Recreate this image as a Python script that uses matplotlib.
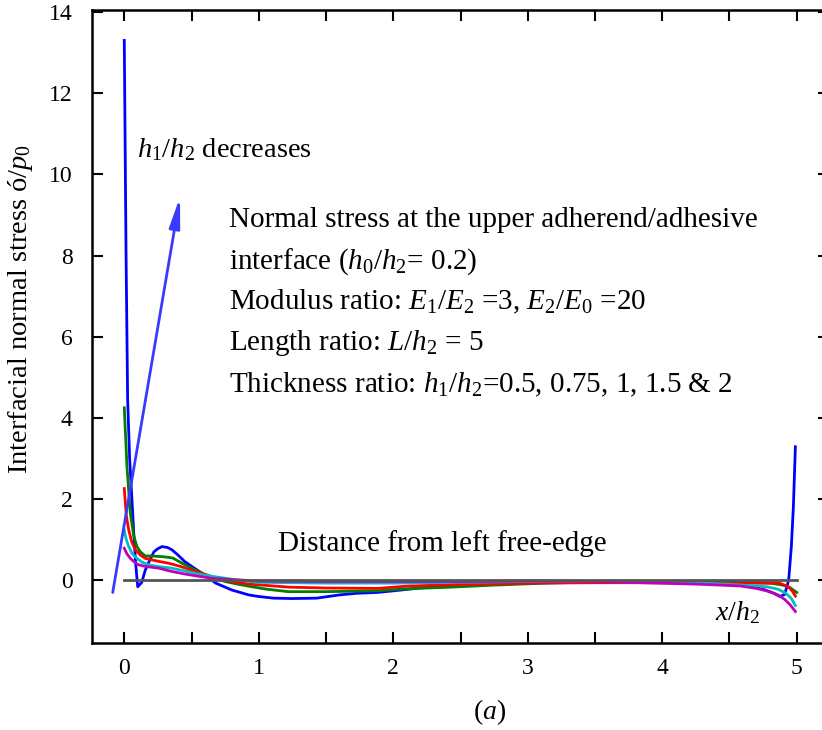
import numpy as np
import matplotlib
matplotlib.use("Agg")
import matplotlib.pyplot as plt

# Normal stress along the upper adherend/adhesive interface
# one curve per thickness ratio h1/h2

plt.rcParams["font.family"] = ["Liberation Serif", "DejaVu Serif"]
plt.rcParams["mathtext.fontset"] = "custom"
plt.rcParams["mathtext.rm"] = "Liberation Serif"
plt.rcParams["mathtext.it"] = "Liberation Serif:italic"
plt.rcParams["mathtext.bf"] = "Liberation Serif:bold"

# Data
blue_x = [0.0, 0.013, 0.025, 0.04, 0.055, 0.07, 0.085, 0.1, 0.13, 0.156, 0.19, 0.22,
          0.25, 0.28, 0.32, 0.355, 0.4, 0.45, 0.52, 0.58, 0.68, 0.8, 0.925, 1.0, 1.11,
          1.25, 1.43, 1.6, 1.73, 1.88, 2.0, 2.17, 2.47, 2.8, 3.2, 3.6, 4.0, 4.3, 4.5,
          4.67, 4.75, 4.83, 4.875, 4.91, 4.94, 4.96, 4.975, 4.99]
blue_y = [13.3, 8.1, 4.45, 3.0, 2.1, 1.2, 0.4, -0.16, -0.05, 0.25, 0.5, 0.7,
          0.78, 0.83, 0.81, 0.75, 0.62, 0.46, 0.3, 0.17, -0.07, -0.24, -0.36, -0.4, -0.44,
          -0.45, -0.44, -0.36, -0.32, -0.3, -0.26, -0.2, -0.1, -0.06, -0.04, -0.03, -0.03, -0.05, -0.08,
          -0.16, -0.22, -0.32, -0.4, -0.35, 0.0, 0.83, 1.8, 3.29]

green_x = [0.0, 0.02, 0.045, 0.07, 0.094, 0.12, 0.156, 0.2, 0.29, 0.36, 0.43, 0.5,
           0.58, 0.66, 0.75, 0.85, 0.95, 1.06, 1.22, 1.5, 1.88, 2.05, 2.17, 2.42,
           2.74, 3.14, 3.5, 4.0, 4.5, 4.8, 4.9, 4.95, 5.0]
green_y = [4.25, 2.8, 1.65, 1.1, 0.83, 0.7, 0.6, 0.6, 0.58, 0.55, 0.42, 0.3,
           0.17, 0.06, -0.03, -0.1, -0.16, -0.22, -0.28, -0.28, -0.26, -0.22, -0.2, -0.17,
           -0.12, -0.07, -0.04, -0.03, -0.04, -0.07, -0.12, -0.18, -0.3]

red_x = [0.0, 0.015, 0.033, 0.055, 0.082, 0.12, 0.156, 0.25, 0.33, 0.42, 0.5,
         0.58, 0.65, 0.75, 0.85, 0.95, 1.03, 1.23, 1.5, 1.88, 2.12, 2.55, 3.04,
         3.5, 3.78, 4.1, 4.43, 4.7, 4.87, 4.94, 4.97, 4.99]
red_y = [2.26, 1.6, 1.24, 0.95, 0.75, 0.62, 0.54, 0.47, 0.42, 0.34, 0.25,
         0.17, 0.09, 0.0, -0.06, -0.1, -0.12, -0.17, -0.19, -0.2, -0.14, -0.1, -0.07,
         -0.06, -0.06, -0.07, -0.07, -0.07, -0.07, -0.16, -0.28, -0.39]

cyan_x = [0.0, 0.015, 0.033, 0.06, 0.094, 0.13, 0.18, 0.25, 0.35, 0.45, 0.55,
          0.65, 0.75, 0.85, 1.0, 1.5, 2.0, 2.5, 3.0, 3.5, 4.0, 4.3, 4.5, 4.65,
          4.78, 4.86, 4.92, 4.96, 4.99]
cyan_y = [1.24, 1.0, 0.83, 0.65, 0.54, 0.45, 0.38, 0.34, 0.3, 0.23, 0.155,
          0.1, 0.05, 0.0, -0.05, -0.07, -0.07, -0.05, -0.03, -0.03, -0.05, -0.07, -0.1, -0.13,
          -0.16, -0.22, -0.32, -0.45, -0.62]

magenta_x = [0.0, 0.02, 0.045, 0.075, 0.107, 0.16, 0.255, 0.35, 0.45, 0.55, 0.65,
             0.8, 1.0, 1.5, 2.0, 2.5, 3.0, 3.5, 4.0, 4.3, 4.58, 4.7, 4.8, 4.86,
             4.91, 4.95, 4.99]
magenta_y = [0.79, 0.65, 0.54, 0.45, 0.38, 0.34, 0.3, 0.22, 0.155, 0.1, 0.05,
             0.02, -0.02, -0.03, -0.03, -0.03, -0.02, -0.03, -0.07, -0.1, -0.14, -0.2, -0.28, -0.36,
             -0.47, -0.6, -0.77]

series = [
    (blue_x, blue_y, "#0000ff"),
    (green_x, green_y, "#008000"),
    (red_x, red_y, "#ff0000"),
    (cyan_x, cyan_y, "#00bfbf"),
    (magenta_x, magenta_y, "#bf00bf"),
]

baseline_x = [0.0, 5.0]
baseline_y = [0.0, 0.0]

x_ticks = [0, 0.5, 1, 1.5, 2, 2.5, 3, 3.5, 4, 4.5, 5]
x_ticklabels = ["0", "", "1", "", "2", "", "3", "", "4", "", "5"]
y_ticks = [0, 2, 4, 6, 8, 10, 12, 14]

info_lines = [
    "Normal stress at the upper adherend/adhesive",
    r"interface ($h_0/h_2$= 0.2)",
    r"Modulus ratio: $E_1/E_2$ =3, $E_2/E_0$ =20",
    r"Length ratio: $L/h_2$ = 5",
    r"Thickness ratio: $h_1/h_2$=0.5, 0.75, 1, 1.5 & 2",
]

# Figure
fig = plt.figure(figsize=(8.22, 7.30), dpi=100)
ax = fig.add_axes([92 / 822, 87 / 730, 737 / 822, 633 / 730])
ax.set_xlim(-0.24, 5.24)
ax.set_ylim(-1.545, 14.05)

for xs, ys, col in series:
    ax.plot(xs, ys, color=col, lw=2.0, zorder=3)
ax.plot(baseline_x, baseline_y, color="#555555", lw=2.0, zorder=4)

# arrow showing the trend
ax.annotate("", xy=(0.414, 9.44), xytext=(-0.086, -0.30),
            arrowprops=dict(arrowstyle="-|>,head_length=0.9,head_width=0.16",
                            color="#3a3aff", lw=2.0, mutation_scale=20,
                            shrinkA=0, shrinkB=0), zorder=5)

ax.text(0.092, 10.43, r"$h_1/h_2$ decreases", fontsize=20.5, va="baseline")
info_y = [8.71, 7.68, 6.67, 5.67, 4.64]
for line, ypos in zip(info_lines, info_y):
    ax.text(0.778, ypos, line, fontsize=21, va="baseline")
ax.text(1.145, 0.72, "Distance from left free-edge", fontsize=21, va="baseline")
ax.text(4.39, -0.98, r"$x/h_2$", fontsize=20, va="baseline")

# Axes styling
ax.set_xticks(x_ticks, labels=x_ticklabels)
ax.set_yticks(y_ticks)
ax.tick_params(direction="in", length=8, width=1.5, labelsize=17,
               top=True, right=True, pad=14)
ax.tick_params(axis="x", pad=11)
for side in ["left", "bottom", "top", "right"]:
    ax.spines[side].set_linewidth(1.8)

ax.set_ylabel(r"Interfacial normal stress ó/$p_0$", fontsize=20.5)
ax.yaxis.set_label_coords(-57 / 737, (643 - 309) / 633)
fig.text(490 / 822, 1 - 712 / 730, r"($a$)", fontsize=20, ha="center", va="center")

fig.savefig("out.png", dpi=100)
